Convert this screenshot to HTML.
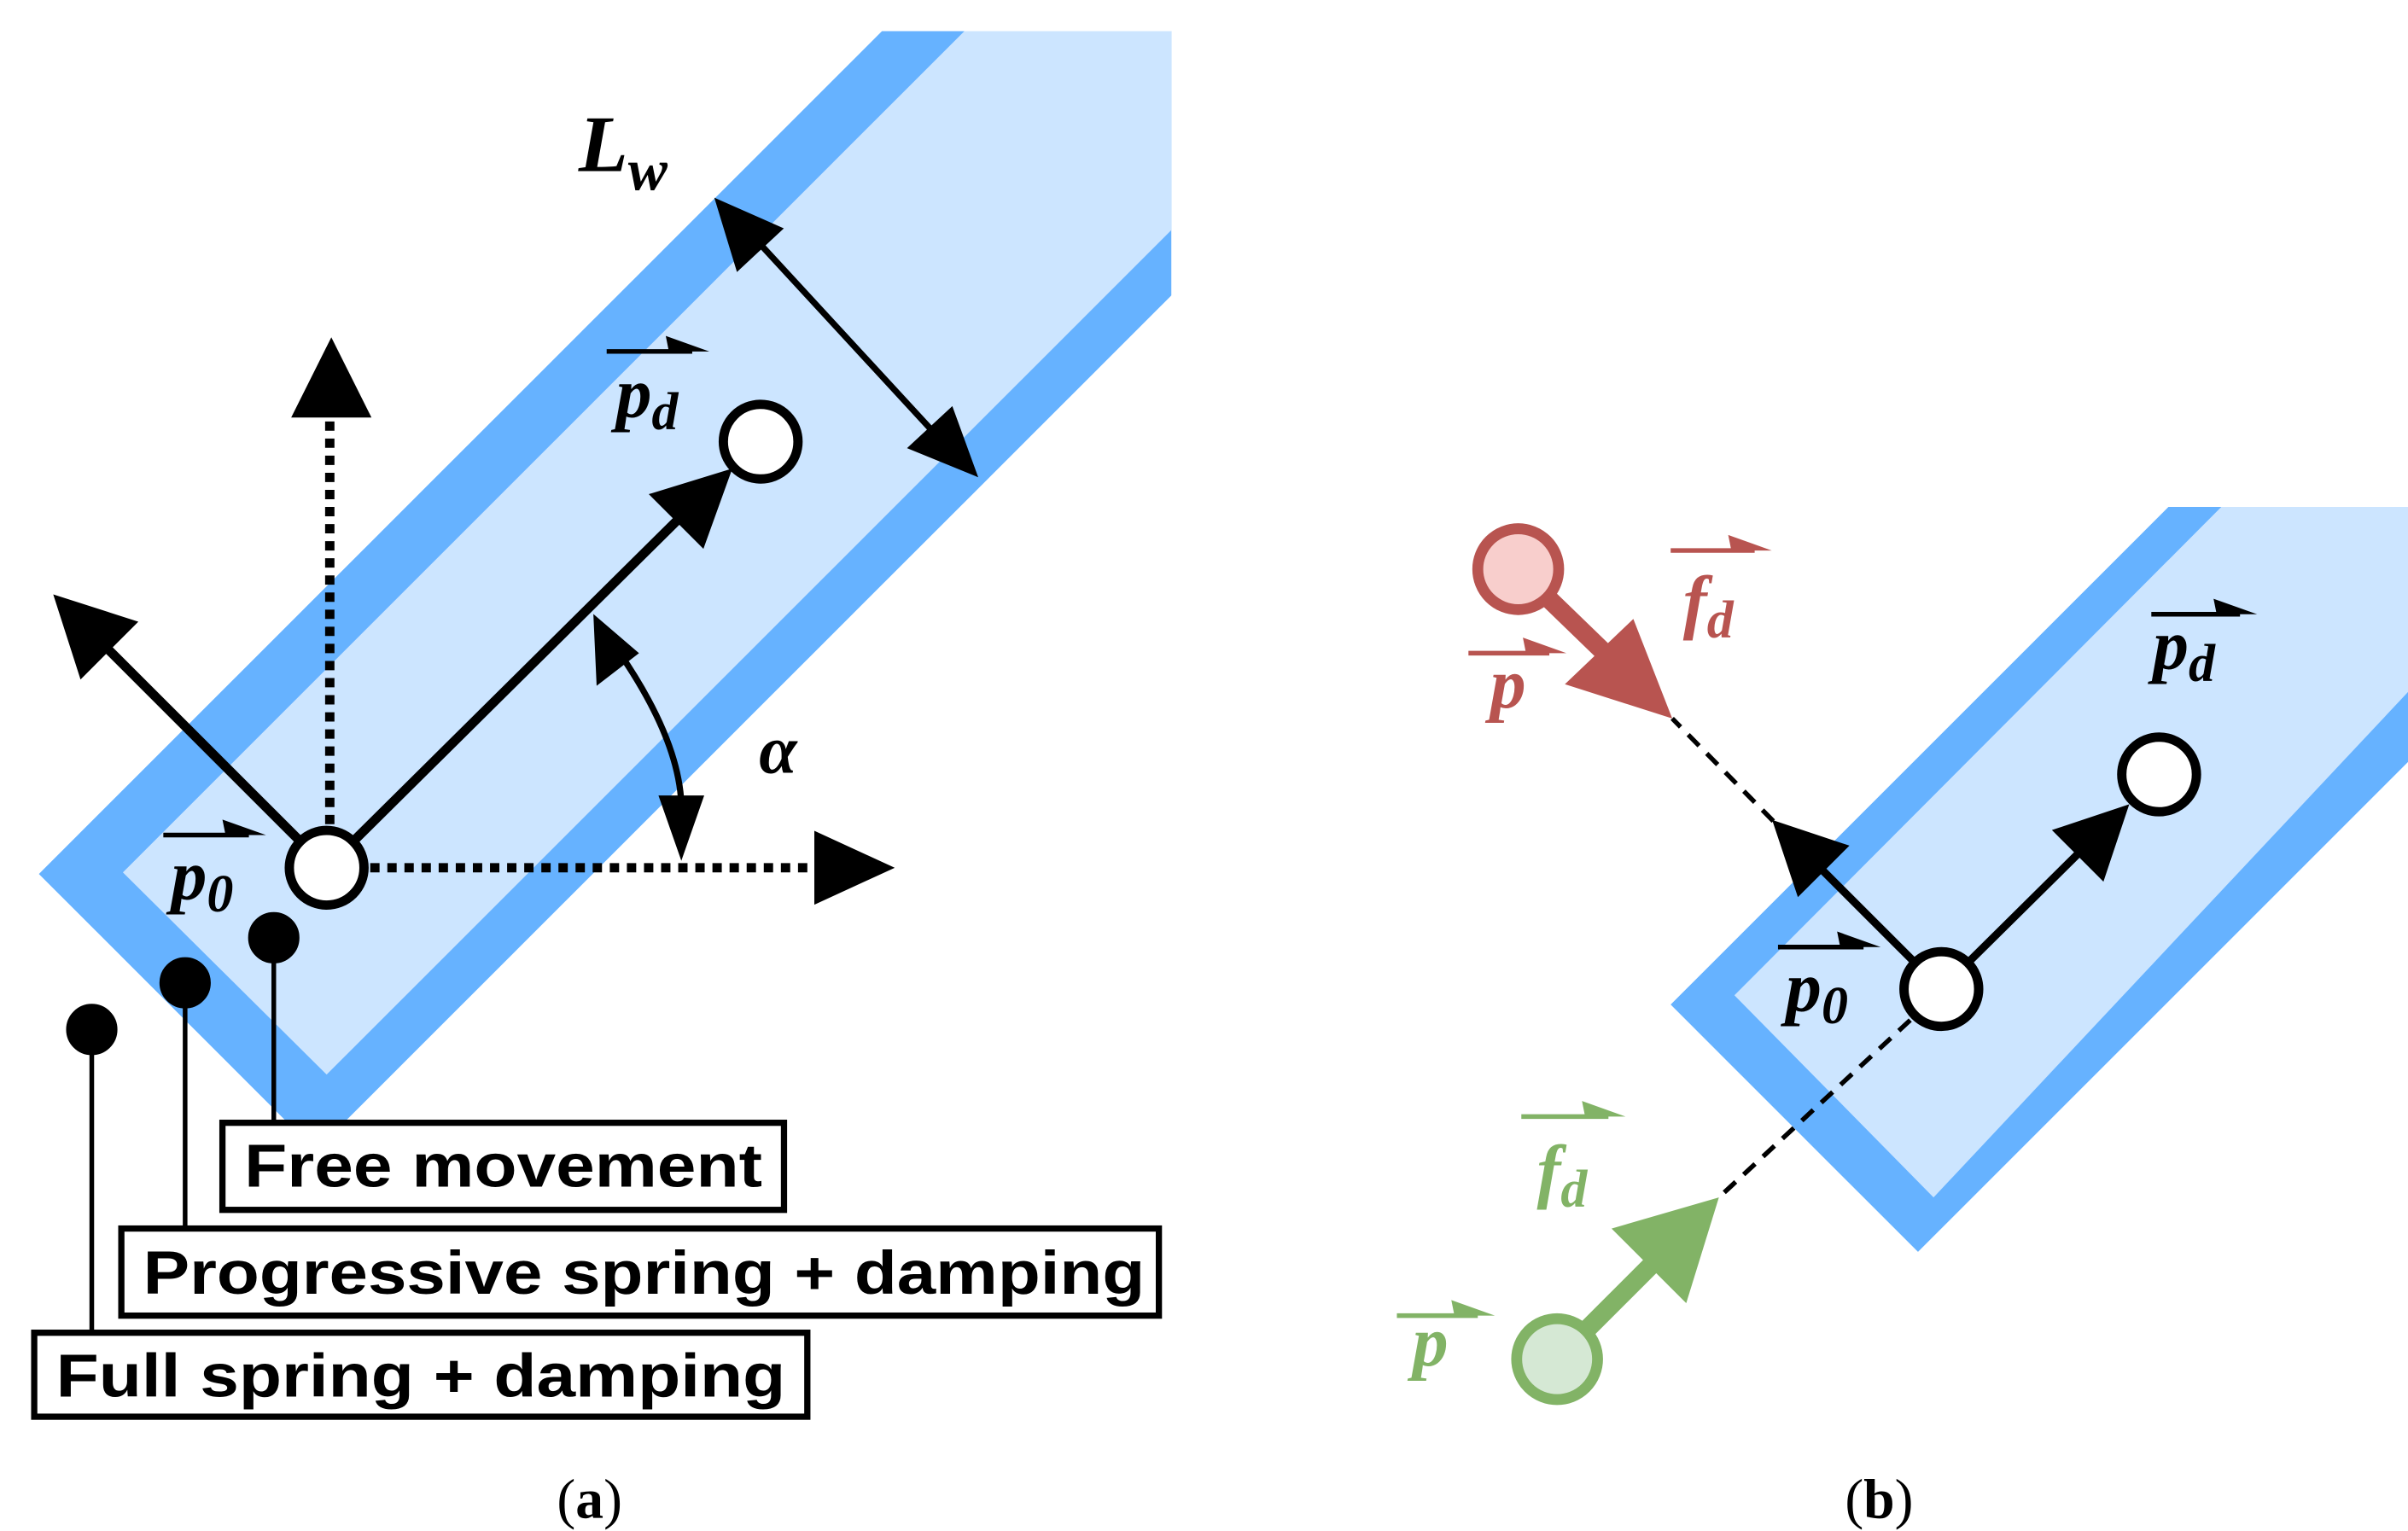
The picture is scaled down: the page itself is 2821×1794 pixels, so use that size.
<!DOCTYPE html>
<html><head><meta charset="utf-8"><style>html,body{margin:0;padding:0;background:#fff}svg{display:block}</style></head><body>
<svg width="2821" height="1794" viewBox="0 0 1548 984.5" preserveAspectRatio="none" xmlns="http://www.w3.org/2000/svg">
<defs>
<clipPath id="cl"><rect x="0" y="20" width="753" height="964"/></clipPath>
</defs>
<rect width="1548" height="984.5" fill="#fff"/>
<!-- left band -->
<g clip-path="url(#cl)">
<polygon points="25,562 600,-13 1000,-57 203,740" fill="#66b2ff"/>
<polygon points="79,561 660,-20 1000,-99 210,691" fill="#cce5ff"/>
</g>
<!-- right band -->
<polygon points="1074,646 1394,326 1548,326 1548,490 1233,805" fill="#66b2ff"/>
<polygon points="1115,640 1428,326 1548,326 1548,445 1243,770" fill="#cce5ff"/>
<g stroke="#000" fill="#000">
<line x1="210" y1="558" x2="440" y2="330" stroke-width="6"/>
<polygon points="470,302 418,318 452,352"/>
<line x1="210" y1="558" x2="70" y2="418" stroke-width="6"/>
<polygon points="35,383 52,436 88,400"/>
<line x1="212" y1="530" x2="212" y2="265" stroke-width="6" stroke-dasharray="6,5"/>
<polygon points="213,218 188,268 238,268"/>
<line x1="238" y1="558" x2="528" y2="558" stroke-width="6" stroke-dasharray="6,5"/>
<polygon points="574,558 524,535 524,581"/>
<line x1="485" y1="153" x2="603" y2="281" stroke-width="4"/>
<polygon points="460,128 474,174 503,147"/>
<polygon points="628,306 584,288 612,262"/>
<path d="M397,418 Q440,480 438,525" fill="none" stroke-width="4"/>
<polygon points="382,396 384,440 410,420"/>
<polygon points="438,552 424,512 452,512"/>
<line x1="176" y1="603" x2="176" y2="722" stroke-width="3"/>
<line x1="119" y1="632" x2="119" y2="790" stroke-width="3"/>
<line x1="59" y1="662" x2="59" y2="857" stroke-width="3"/>
<circle cx="176" cy="603" r="16"/><circle cx="119" cy="632" r="16"/><circle cx="59" cy="662" r="16"/>
<line x1="1248" y1="636" x2="1345" y2="540" stroke-width="5"/>
<polygon points="1368,518 1320,534 1352,566"/>
<line x1="1248" y1="636" x2="1165" y2="553" stroke-width="5"/>
<polygon points="1140,528 1156,576 1188,544"/>
<line x1="1140" y1="528" x2="1075" y2="462" stroke-width="3" stroke-dasharray="10,7"/>
<line x1="1228" y1="656" x2="1105" y2="770" stroke-width="3" stroke-dasharray="10,7"/>
</g>
<g stroke="#000" stroke-width="6" fill="#fff">
<circle cx="210" cy="558" r="24"/><circle cx="489" cy="284" r="24"/>
<circle cx="1248" cy="636" r="24"/><circle cx="1388" cy="498" r="24"/>
</g>
<line x1="976" y1="366" x2="1040" y2="428" stroke="#b85450" stroke-width="12"/>
<polygon points="1075,462 1006,440 1050,398" fill="#b85450"/>
<circle cx="976" cy="366" r="26" fill="#f8cecc" stroke="#b85450" stroke-width="7"/>
<line x1="1001" y1="874" x2="1070" y2="805" stroke="#82b366" stroke-width="12"/>
<polygon points="1105,770 1036,790 1084,838" fill="#82b366"/>
<circle cx="1001" cy="874" r="26" fill="#d5e8d4" stroke="#82b366" stroke-width="7"/>
<g fill="#fff" stroke="#000" stroke-width="4">
<rect x="143" y="722" width="361" height="56"/>
<rect x="78" y="790" width="667" height="56"/>
<rect x="22" y="857" width="497" height="54"/>
</g>
<g font-family="Liberation Sans, sans-serif" font-weight="bold" font-size="39" fill="#000">
<text x="157" y="763" textLength="333" lengthAdjust="spacingAndGlyphs">Free movement</text>
<text x="92" y="832" textLength="644" lengthAdjust="spacingAndGlyphs">Progressive spring + damping</text>
<text x="36" y="898" textLength="469" lengthAdjust="spacingAndGlyphs">Full spring + damping</text>
</g>
<g font-family="Liberation Serif, serif" font-style="italic" font-weight="bold" fill="#000">
<text x="372" y="110" font-size="52">L<tspan font-size="38" dy="12">w</tspan></text>
<text x="488" y="497" font-size="44">α</text>
<text x="396" y="268" font-size="46">p<tspan font-size="34" dy="8">d</tspan></text>
<text x="110" y="578" font-size="46">p<tspan font-size="34" dy="8">0</tspan></text>
<text x="1148" y="650" font-size="46">p<tspan font-size="34" dy="8">0</tspan></text>
<text x="1384" y="430" font-size="46">p<tspan font-size="34" dy="8">d</tspan></text>
<text x="958" y="455" font-size="46" fill="#b85450">p</text>
<text x="1082" y="402" font-size="46" fill="#b85450">f<tspan font-size="34" dy="8">d</tspan></text>
<text x="908" y="878" font-size="46" fill="#82b366">p</text>
<text x="988" y="768" font-size="46" fill="#82b366">f<tspan font-size="34" dy="8">d</tspan></text>
</g>
<g stroke-width="3">
<path d="M390,226 H445" stroke="#000"/><polygon points="456,226 428,216 430,226" fill="#000"/>
<path d="M105,537 H160" stroke="#000"/><polygon points="171,537 143,527 145,537" fill="#000"/>
<path d="M1143,609 H1198" stroke="#000"/><polygon points="1209,609 1181,599 1183,609" fill="#000"/>
<path d="M1383,395 H1440" stroke="#000"/><polygon points="1451,395 1423,385 1425,395" fill="#000"/>
<path d="M1074,354 H1128" stroke="#b85450"/><polygon points="1139,354 1111,344 1113,354" fill="#b85450"/>
<path d="M944,420 H996" stroke="#b85450"/><polygon points="1007,420 979,410 981,420" fill="#b85450"/>
<path d="M978,718 H1034" stroke="#82b366"/><polygon points="1045,718 1017,708 1019,718" fill="#82b366"/>
<path d="M898,846 H950" stroke="#82b366"/><polygon points="961,846 933,836 935,846" fill="#82b366"/>
</g>
<g font-family="Liberation Serif, serif" font-size="36" fill="#000">
<text x="379" y="976" text-anchor="middle">(<tspan font-weight="bold">a</tspan>)</text>
<text x="1208" y="976" text-anchor="middle">(<tspan font-weight="bold">b</tspan>)</text>
</g>
</svg>
</body></html>
